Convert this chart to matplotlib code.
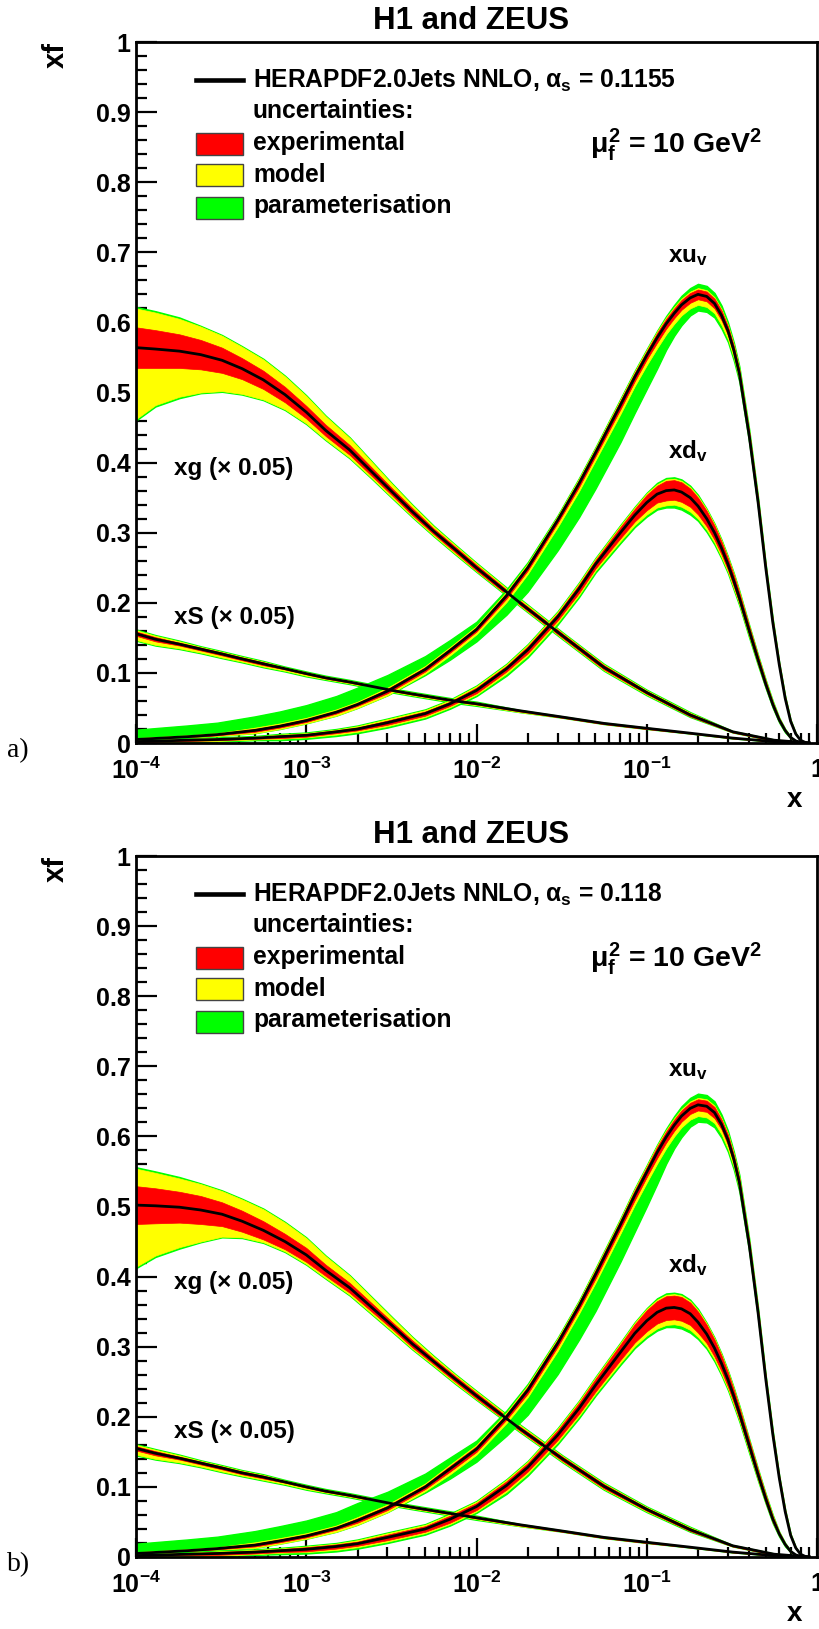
import numpy as np
import matplotlib
matplotlib.use("Agg")
import matplotlib.pyplot as plt
from matplotlib.patches import Rectangle
from matplotlib.lines import Line2D
from matplotlib.ticker import NullFormatter

plt.rcParams.update({
    "font.family": ["Liberation Sans", "DejaVu Sans"],
    "font.weight": "bold",
    "mathtext.fontset": "custom",
    "mathtext.rm": "Liberation Sans:bold",
    "mathtext.it": "Liberation Sans:bold",
    "mathtext.bf": "Liberation Sans:bold",
    "mathtext.sf": "Liberation Sans:bold",
})

# ---------------------------------------------------------------- data
# x grids
x_sea = [1e-4, 1.3e-4, 1.8e-4, 2.4e-4, 3.2e-4, 4.2e-4, 5.6e-4, 7.5e-4, 1e-3, 1.3e-3,
         1.8e-3, 2.4e-3, 3.2e-3, 4.2e-3, 5.6e-3, 7.5e-3, 1e-2, 1.8e-2, 3.2e-2, 5.6e-2,
         0.1, 0.18, 0.32, 0.56, 0.8, 0.9]
x_val = [1e-4, 2e-4, 3e-4, 5e-4, 7e-4, 1e-3, 1.5e-3, 2e-3, 3e-3, 5e-3,
         7e-3, 0.01, 0.015, 0.02, 0.03, 0.04, 0.05, 0.07, 0.085, 0.1,
         0.115, 0.13, 0.145, 0.16, 0.18, 0.2, 0.225, 0.25, 0.275, 0.3,
         0.325, 0.35, 0.4, 0.45, 0.5, 0.55, 0.6, 0.65, 0.7, 0.75,
         0.8, 0.85, 0.9]
x_dv = [1e-4, 2e-4, 3e-4, 5e-4, 7e-4, 1e-3, 1.5e-3, 2e-3, 3e-3, 5e-3,
        7e-3, 0.01, 0.015, 0.02, 0.03, 0.04, 0.05, 0.07, 0.085, 0.1,
        0.115, 0.13, 0.145, 0.16, 0.18, 0.2, 0.225, 0.25, 0.275, 0.3,
        0.325, 0.35, 0.4, 0.45, 0.5, 0.55, 0.6, 0.65, 0.7, 0.75,
        0.8, 0.85]

# ---- gluon (x 0.05)
gA_c = [0.564, 0.562, 0.559, 0.554, 0.546, 0.534, 0.518, 0.497, 0.472, 0.446,
        0.418, 0.388, 0.358, 0.330, 0.302, 0.276, 0.250, 0.200, 0.153, 0.108,
        0.072, 0.040, 0.016, 0.004, 0.001, 0.000]
gA_e = [0.029, 0.027, 0.024, 0.021, 0.018, 0.015, 0.013, 0.011, 0.009, 0.008,
        0.007, 0.006, 0.005, 0.005, 0.004, 0.004, 0.004, 0.003, 0.003, 0.003,
        0.002, 0.002, 0.001, 0.001, 0.000, 0.000]
gA_mu = [0.027, 0.025, 0.022, 0.019, 0.017, 0.016, 0.016, 0.015, 0.014, 0.012,
         0.010, 0.008, 0.006, 0.004, 0.003, 0.002, 0.002, 0.002, 0.001, 0.001,
         0.001, 0.001, 0.000, 0.000, 0.000, 0.000]
gA_md = [0.073, 0.053, 0.041, 0.033, 0.026, 0.021, 0.015, 0.010, 0.007, 0.005,
         0.004, 0.003, 0.003, 0.002, 0.002, 0.002, 0.001, 0.001, 0.001, 0.001,
         0.001, 0.000, 0.000, 0.000, 0.000, 0.000]
gB_c = [0.502, 0.501, 0.499, 0.495, 0.489, 0.479, 0.466, 0.450, 0.431, 0.409,
        0.384, 0.357, 0.330, 0.304, 0.279, 0.254, 0.230, 0.183, 0.140, 0.101,
        0.068, 0.039, 0.016, 0.004, 0.001, 0.000]
gB_e = [0.027, 0.025, 0.022, 0.020, 0.017, 0.015, 0.013, 0.011, 0.010, 0.008,
        0.007, 0.006, 0.005, 0.005, 0.004, 0.004, 0.004, 0.003, 0.003, 0.003,
        0.002, 0.002, 0.001, 0.001, 0.000, 0.000]
gB_mu = [0.025, 0.022, 0.019, 0.017, 0.016, 0.016, 0.017, 0.016, 0.014, 0.012,
         0.010, 0.008, 0.006, 0.004, 0.003, 0.002, 0.002, 0.002, 0.001, 0.001,
         0.001, 0.001, 0.000, 0.000, 0.000, 0.000]
gB_md = [0.061, 0.046, 0.035, 0.025, 0.015, 0.008, 0.004, 0.003, 0.003, 0.003,
         0.003, 0.003, 0.003, 0.002, 0.002, 0.002, 0.001, 0.001, 0.001, 0.001,
         0.001, 0.000, 0.000, 0.000, 0.000, 0.000]
g_par = [0.002, 0.002, 0.002, 0.001, 0.001, 0.001, 0.001, 0.001, 0.001, 0.001,
         0.001, 0.001, 0.001, 0.001, 0.001, 0.001, 0.001, 0.001, 0.001, 0.001,
         0.001, 0.001, 0.000, 0.000, 0.000, 0.000]

# ---- sea (x 0.05)
sA_c = [0.156, 0.148, 0.141, 0.134, 0.127, 0.120, 0.113, 0.106, 0.099, 0.093,
        0.087, 0.081, 0.075, 0.070, 0.065, 0.060, 0.056, 0.046, 0.037, 0.028,
        0.021, 0.014, 0.007, 0.002, 0.0005, 0.000]
sB_c = [0.155, 0.148, 0.141, 0.134, 0.127, 0.120, 0.114, 0.107, 0.100, 0.094,
        0.088, 0.082, 0.076, 0.071, 0.066, 0.061, 0.056, 0.046, 0.037, 0.028,
        0.021, 0.014, 0.007, 0.002, 0.0005, 0.000]
s_e = [0.003, 0.003, 0.002, 0.002, 0.002, 0.002, 0.002, 0.001, 0.001, 0.001,
       0.001, 0.001, 0.001, 0.001, 0.001, 0.001, 0.001, 0.001, 0.001, 0.001,
       0.001, 0.0005, 0.0005, 0.000, 0.000, 0.000]
s_mu = [0.002, 0.002, 0.002, 0.001, 0.001, 0.001, 0.001, 0.001, 0.001, 0.001,
        0.001, 0.001, 0.001, 0.001, 0.001, 0.001, 0.001, 0.000, 0.000, 0.000,
        0.000, 0.000, 0.000, 0.000, 0.000, 0.000]
s_md = [0.006, 0.005, 0.004, 0.003, 0.003, 0.002, 0.002, 0.002, 0.002, 0.001,
        0.001, 0.001, 0.001, 0.001, 0.001, 0.001, 0.001, 0.001, 0.000, 0.000,
        0.000, 0.000, 0.000, 0.000, 0.000, 0.000]
s_par = [0.001, 0.001, 0.001, 0.001, 0.001, 0.001, 0.001, 0.001, 0.001, 0.001,
         0.001, 0.001, 0.001, 0.001, 0.001, 0.001, 0.001, 0.000, 0.000, 0.000,
         0.000, 0.000, 0.000, 0.000, 0.000, 0.000]

# ---- u valence
uA_c = [0.005, 0.009, 0.012, 0.018, 0.024, 0.032, 0.044, 0.055, 0.074, 0.105,
        0.132, 0.162, 0.210, 0.250, 0.318, 0.370, 0.414, 0.482, 0.522, 0.553,
        0.578, 0.598, 0.613, 0.625, 0.635, 0.640, 0.637, 0.627, 0.610, 0.588,
        0.560, 0.527, 0.438, 0.345, 0.250, 0.172, 0.112, 0.064, 0.031, 0.013,
        0.004, 0.001, 0.000]
uB_c = [0.005, 0.009, 0.012, 0.017, 0.023, 0.030, 0.041, 0.052, 0.070, 0.100,
        0.126, 0.154, 0.200, 0.238, 0.305, 0.358, 0.403, 0.474, 0.516, 0.549,
        0.577, 0.599, 0.616, 0.629, 0.640, 0.645, 0.643, 0.634, 0.617, 0.595,
        0.567, 0.534, 0.445, 0.350, 0.254, 0.175, 0.113, 0.065, 0.031, 0.013,
        0.004, 0.001, 0.000]
uA_e = [0.001, 0.001, 0.001, 0.002, 0.002, 0.002, 0.002, 0.002, 0.003, 0.003,
        0.003, 0.003, 0.004, 0.004, 0.004, 0.005, 0.005, 0.006, 0.006, 0.006,
        0.007, 0.007, 0.007, 0.007, 0.007, 0.007, 0.007, 0.007, 0.007, 0.006,
        0.006, 0.005, 0.005, 0.004, 0.003, 0.003, 0.002, 0.002, 0.001, 0.001,
        0.000, 0.000, 0.000]
uB_e = [0.001, 0.001, 0.001, 0.002, 0.002, 0.002, 0.002, 0.003, 0.003, 0.003,
        0.004, 0.004, 0.004, 0.005, 0.005, 0.005, 0.006, 0.006, 0.007, 0.007,
        0.008, 0.008, 0.008, 0.008, 0.008, 0.008, 0.008, 0.008, 0.007, 0.007,
        0.006, 0.006, 0.005, 0.004, 0.003, 0.003, 0.002, 0.002, 0.001, 0.001,
        0.000, 0.000, 0.000]
u_mu = [0.001, 0.001, 0.001, 0.002, 0.002, 0.002, 0.002, 0.002, 0.002, 0.002,
        0.002, 0.002, 0.002, 0.002, 0.002, 0.002, 0.002, 0.002, 0.002, 0.002,
        0.002, 0.002, 0.002, 0.002, 0.002, 0.002, 0.002, 0.002, 0.002, 0.002,
        0.002, 0.002, 0.002, 0.002, 0.001, 0.001, 0.001, 0.001, 0.001, 0.000,
        0.000, 0.000, 0.000]
u_md = [0.001, 0.001, 0.001, 0.002, 0.002, 0.002, 0.003, 0.003, 0.003, 0.003,
        0.004, 0.004, 0.005, 0.005, 0.006, 0.006, 0.006, 0.007, 0.007, 0.008,
        0.008, 0.008, 0.008, 0.008, 0.008, 0.008, 0.008, 0.007, 0.007, 0.006,
        0.005, 0.004, 0.003, 0.003, 0.002, 0.002, 0.001, 0.001, 0.000, 0.000,
        0.000, 0.000, 0.000]
u_pu = [0.012, 0.014, 0.015, 0.016, 0.017, 0.018, 0.019, 0.020, 0.018, 0.014,
        0.010, 0.006, 0.003, 0.002, 0.001, 0.001, 0.001, 0.001, 0.001, 0.001,
        0.001, 0.002, 0.003, 0.004, 0.005, 0.006, 0.006, 0.006, 0.005, 0.004,
        0.003, 0.003, 0.002, 0.001, 0.001, 0.001, 0.000, 0.000, 0.000, 0.000,
        0.000, 0.000, 0.000]
u_pd = [0.000, 0.000, 0.000, 0.000, 0.000, 0.000, 0.000, 0.000, 0.000, 0.002,
        0.006, 0.010, 0.018, 0.025, 0.033, 0.037, 0.040, 0.040, 0.038, 0.034,
        0.029, 0.022, 0.017, 0.014, 0.010, 0.008, 0.007, 0.006, 0.005, 0.004,
        0.004, 0.003, 0.002, 0.002, 0.001, 0.001, 0.001, 0.000, 0.000, 0.000,
        0.000, 0.000, 0.000]

# ---- d valence
dA_c = [0.002, 0.004, 0.005, 0.007, 0.009, 0.011, 0.016, 0.020, 0.029, 0.042,
        0.056, 0.075, 0.106, 0.133, 0.180, 0.220, 0.255, 0.300, 0.325, 0.343,
        0.355, 0.360, 0.361, 0.358, 0.350, 0.338, 0.320, 0.300, 0.278, 0.255,
        0.231, 0.207, 0.160, 0.119, 0.084, 0.055, 0.033, 0.018, 0.008, 0.003,
        0.001, 0.000]
dB_c = [0.002, 0.004, 0.005, 0.007, 0.009, 0.011, 0.015, 0.019, 0.028, 0.040,
        0.054, 0.072, 0.102, 0.128, 0.174, 0.212, 0.245, 0.292, 0.319, 0.337,
        0.349, 0.355, 0.356, 0.354, 0.347, 0.335, 0.318, 0.298, 0.276, 0.253,
        0.229, 0.205, 0.159, 0.118, 0.083, 0.054, 0.033, 0.018, 0.008, 0.003,
        0.001, 0.000]
dA_e = [0.001, 0.001, 0.001, 0.001, 0.002, 0.002, 0.002, 0.002, 0.003, 0.003,
        0.003, 0.004, 0.004, 0.005, 0.005, 0.006, 0.006, 0.008, 0.009, 0.011,
        0.012, 0.014, 0.014, 0.014, 0.013, 0.012, 0.011, 0.010, 0.009, 0.008,
        0.008, 0.007, 0.006, 0.005, 0.004, 0.003, 0.002, 0.001, 0.001, 0.000,
        0.000, 0.000]
dB_e = [0.001, 0.001, 0.002, 0.002, 0.002, 0.003, 0.003, 0.003, 0.004, 0.004,
        0.005, 0.005, 0.006, 0.006, 0.007, 0.008, 0.009, 0.011, 0.013, 0.015,
        0.016, 0.017, 0.017, 0.017, 0.016, 0.015, 0.013, 0.012, 0.011, 0.010,
        0.009, 0.008, 0.007, 0.006, 0.005, 0.004, 0.002, 0.001, 0.001, 0.000,
        0.000, 0.000]
d_mu = [0.001, 0.001, 0.001, 0.001, 0.001, 0.001, 0.001, 0.002, 0.002, 0.002,
        0.002, 0.002, 0.002, 0.002, 0.002, 0.002, 0.002, 0.002, 0.002, 0.002,
        0.002, 0.002, 0.002, 0.002, 0.002, 0.002, 0.002, 0.002, 0.002, 0.002,
        0.002, 0.002, 0.001, 0.001, 0.001, 0.001, 0.001, 0.001, 0.000, 0.000,
        0.000, 0.000]
d_md = [0.001, 0.001, 0.001, 0.001, 0.001, 0.001, 0.002, 0.002, 0.002, 0.002,
        0.002, 0.002, 0.003, 0.003, 0.003, 0.003, 0.003, 0.004, 0.005, 0.006,
        0.007, 0.007, 0.007, 0.007, 0.007, 0.006, 0.005, 0.004, 0.004, 0.003,
        0.003, 0.002, 0.002, 0.002, 0.001, 0.001, 0.001, 0.001, 0.000, 0.000,
        0.000, 0.000]
d_pu = [0.001, 0.001, 0.001, 0.001, 0.001, 0.001, 0.001, 0.001, 0.001, 0.001,
        0.001, 0.001, 0.001, 0.001, 0.001, 0.001, 0.001, 0.001, 0.001, 0.001,
        0.002, 0.002, 0.002, 0.002, 0.002, 0.002, 0.001, 0.001, 0.001, 0.001,
        0.001, 0.001, 0.001, 0.001, 0.001, 0.001, 0.000, 0.000, 0.000, 0.000,
        0.000, 0.000]
d_pd = [0.001, 0.001, 0.001, 0.001, 0.002, 0.002, 0.002, 0.002, 0.002, 0.002,
        0.002, 0.002, 0.003, 0.003, 0.003, 0.003, 0.003, 0.003, 0.003, 0.003,
        0.003, 0.003, 0.004, 0.004, 0.004, 0.003, 0.003, 0.003, 0.002, 0.002,
        0.002, 0.002, 0.002, 0.001, 0.001, 0.001, 0.001, 0.001, 0.000, 0.000,
        0.000, 0.000]

alpha_values = ["0.1155", "0.118"]
panel_tags = ["a)", "b)"]

x_major = [1e-4, 1e-3, 1e-2, 1e-1, 1.0]
x_labels = ["10$^{-4}$", "10$^{-3}$", "10$^{-2}$", "10$^{-1}$", "1"]
y_major = [0.0, 0.1, 0.2, 0.3, 0.4, 0.5, 0.6, 0.7, 0.8, 0.9, 1.0]
y_labels = ["0", "0.1", "0.2", "0.3", "0.4", "0.5", "0.6", "0.7", "0.8", "0.9", "1"]

legend_labels = ["experimental", "model", "parameterisation"]

RED, YELLOW, GREEN = "#ff0000", "#ffff00", "#00ff00"

panels = [
    dict(off=0, alpha=alpha_values[0], tag=panel_tags[0], curves=[
        (x_sea, gA_c, gA_e, gA_mu, gA_md, g_par, g_par),
        (x_sea, sA_c, s_e, s_mu, s_md, s_par, s_par),
        (x_val, uA_c, uA_e, u_mu, u_md, u_pu, u_pd),
        (x_dv, dA_c, dA_e, d_mu, d_md, d_pu, d_pd),
    ]),
    dict(off=814, alpha=alpha_values[1], tag=panel_tags[1], curves=[
        (x_sea, gB_c, gB_e, gB_mu, gB_md, g_par, g_par),
        (x_sea, sB_c, s_e, s_mu, s_md, s_par, s_par),
        (x_val, uB_c, uB_e, u_mu, u_md, u_pu, u_pd),
        (x_dv, dB_c, dB_e, d_mu, d_md, d_pu, d_pd),
    ]),
]

# ---------------------------------------------------------------- figure
W, H = 819, 1629
fig = plt.figure(figsize=(W / 100, H / 100), dpi=100)


def fx(p):
    return p / W


def fy(p):
    return 1 - p / H


x_minor = [k * 10.0 ** n for n in range(-4, 0) for k in range(2, 10)]
y_minor = [i / 50 for i in range(51)]

for P in panels:
    off = P["off"]
    ax = fig.add_axes([fx(136), fy(743 + off), (817 - 136) / W, (743 - 42) / H])
    ax.set_xscale("log")
    for xs, c, e, mu, md, pu, pd in P["curves"]:
        xs, c, e, mu, md, pu, pd = map(np.asarray, (xs, c, e, mu, md, pu, pd))
        r_lo, r_hi = c - e, c + e
        y_lo, y_hi = r_lo - md, r_hi + mu
        g_lo, g_hi = y_lo - pd, y_hi + pu
        ax.fill_between(xs, g_lo, g_hi, facecolor=GREEN, edgecolor=GREEN, lw=1.0, zorder=2)
        ax.fill_between(xs, y_lo, y_hi, facecolor=YELLOW, edgecolor=YELLOW, lw=0.5, zorder=2)
        ax.fill_between(xs, r_lo, r_hi, facecolor=RED, edgecolor=RED, lw=0.5, zorder=2)
    for xs, c, *_ in P["curves"]:
        ax.plot(xs, c, color="black", lw=2.0, zorder=4, solid_joinstyle="round")

    ax.set_xlim(1e-4, 1)
    ax.set_ylim(0, 1)
    ax.set_xticks(x_major, x_labels)
    ax.set_xticks(x_minor, minor=True)
    ax.xaxis.set_minor_formatter(NullFormatter())
    ax.set_yticks(y_major, y_labels)
    ax.set_yticks(y_minor, minor=True)
    ax.yaxis.set_minor_formatter(NullFormatter())
    ax.tick_params(which="both", direction="in", top=False, right=False, width=1.6,
                   labelsize=18)
    ax.tick_params(axis="y", which="major", length=15, pad=4)
    ax.tick_params(axis="y", which="minor", length=8)
    ax.tick_params(axis="x", which="major", length=14, pad=10.5)
    ax.tick_params(axis="x", which="minor", length=7)
    for s in ax.spines.values():
        s.set_linewidth(2.0)
        s.set_zorder(6)

    # titles / axis labels
    fig.text(fx(471.5), fy(29 + off), "H1 and ZEUS", ha="center", va="baseline",
             fontsize=22.5, fontweight="bold")
    fig.text(fx(56), fy(55 + off), "xf", rotation=90, ha="center", va="center",
             fontsize=21, fontweight="bold")
    fig.text(fx(802), fy(807 + off), "x", ha="right", va="baseline", fontsize=20,
             fontweight="bold")
    fig.text(fx(7), fy(757 + off), P["tag"], ha="left", va="baseline", fontsize=20,
             fontweight="normal", family=["Liberation Serif", "DejaVu Serif"])

    # legend
    fig.add_artist(Line2D([fx(196), fx(243)], [fy(80 + off)] * 2, color="black", lw=3.3))
    fig.text(fx(253), fy(87.5 + off),
             "HERAPDF2.0Jets NNLO, $\\alpha_{s}$ = " + P["alpha"],
             ha="left", va="baseline", fontsize=17.7, fontweight="bold")
    fig.text(fx(253), fy(118 + off), "uncertainties:", ha="left", va="baseline",
             fontsize=17.7, fontweight="bold")
    box_tops = [132.7, 164.3, 196.7]
    base = [150, 182, 213.5]
    for col, top, bl, lab in zip([RED, YELLOW, GREEN], box_tops, base, legend_labels):
        fig.add_artist(Rectangle((fx(196), fy(top + 22 + off)), 47 / W, 22 / H,
                                 facecolor=col, edgecolor="#444444", lw=1.0,
                                 transform=fig.transFigure))
        fig.text(fx(253), fy(bl + off), lab, ha="left", va="baseline", fontsize=17.7,
                 fontweight="bold")

    fig.text(fx(590), fy(153 + off), "$\\mu_{f}^{2}$ = 10 GeV$^{2}$", ha="left",
             va="baseline", fontsize=20.5, fontweight="bold")

    # curve labels
    fig.text(fx(668), fy(262 + off), "xu$_{v}$", ha="left", va="baseline", fontsize=17.5,
             fontweight="bold")
    fig.text(fx(668), fy(458 + off), "xd$_{v}$", ha="left", va="baseline", fontsize=17.5,
             fontweight="bold")
    fig.text(fx(174), fy(475 + off), "xg (\u00d7 0.05)", ha="left", va="baseline",
             fontsize=17.5, fontweight="bold")
    fig.text(fx(174), fy(624 + off), "xS (\u00d7 0.05)", ha="left", va="baseline",
             fontsize=17.5, fontweight="bold")

fig.savefig("out.png", dpi=100)
